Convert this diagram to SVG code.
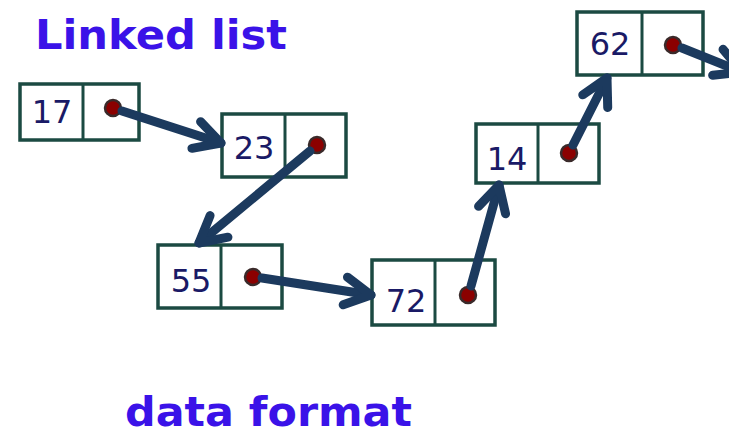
<svg xmlns="http://www.w3.org/2000/svg" width="729" height="435" viewBox="0 0 729 435">
<style>
.box{fill:#ffffff;stroke:#1b4a42;stroke-width:3.5}
.div{stroke:#1b4a42;stroke-width:3}
.num{font-family:"DejaVu Sans",Verdana,sans-serif;font-size:32px;fill:#1a1a66;text-anchor:middle}
.dot{fill:#8b0000;stroke:#3a2a2a;stroke-width:2.5}
.arr{stroke:#1c3a5e;stroke-width:9;stroke-linecap:round;fill:none;marker-end:url(#head)}
.title{font-family:"DejaVu Sans",Verdana,sans-serif;font-weight:bold;font-size:40px;fill:#3a12e8}
</style>
<defs>
<marker id="head" markerUnits="userSpaceOnUse" orient="auto" viewBox="-40 -30 50 60" refX="0" refY="0" markerWidth="50" markerHeight="60" overflow="visible">
<path d="M -26 -14 L 0 0 L -26 14" fill="none" stroke="#1c3a5e" stroke-width="9" stroke-linecap="round" stroke-linejoin="round"/>
</marker>
</defs>
<rect width="729" height="435" fill="#ffffff"/>
<text class="title" x="35" y="49" textLength="252" lengthAdjust="spacingAndGlyphs">Linked list</text>
<text class="title" x="125" y="426" textLength="287" lengthAdjust="spacingAndGlyphs">data format</text>
<g id="n17">
<rect class="box" x="20" y="84" width="119" height="56"/>
<line class="div" x1="83" y1="84" x2="83" y2="140"/>
<text class="num" x="52" y="123">17</text>
<circle class="dot" cx="113" cy="108" r="8"/>
</g>
<g id="n23">
<rect class="box" x="222" y="114" width="124" height="63"/>
<line class="div" x1="285" y1="114" x2="285" y2="177"/>
<text class="num" x="254" y="159">23</text>
<circle class="dot" cx="317" cy="145" r="8"/>
</g>
<g id="n55">
<rect class="box" x="158" y="245" width="124" height="63"/>
<line class="div" x1="221" y1="245" x2="221" y2="308"/>
<text class="num" x="191" y="292">55</text>
<circle class="dot" cx="253" cy="277" r="8"/>
</g>
<g id="n72">
<rect class="box" x="372" y="260" width="123" height="65"/>
<line class="div" x1="435" y1="260" x2="435" y2="325"/>
<text class="num" x="406" y="312">72</text>
<circle class="dot" cx="468" cy="295" r="8"/>
</g>
<g id="n14">
<rect class="box" x="476" y="124" width="123" height="59"/>
<line class="div" x1="538" y1="124" x2="538" y2="183"/>
<text class="num" x="507" y="170">14</text>
<circle class="dot" cx="569" cy="153" r="8"/>
</g>
<g id="n62">
<rect class="box" x="577" y="12" width="126" height="63"/>
<line class="div" x1="642" y1="12" x2="642" y2="75"/>
<text class="num" x="610" y="55">62</text>
<circle class="dot" cx="673" cy="45" r="8"/>
</g>
<g id="connectors">
<line class="arr" x1="122" y1="111" x2="221" y2="143"/>
<line class="arr" x1="310" y1="151" x2="199" y2="243"/>
<line class="arr" x1="262" y1="278" x2="371" y2="295"/>
<line class="arr" x1="471" y1="286" x2="499" y2="185"/>
<line class="arr" x1="573" y1="145" x2="607" y2="78"/>
<line class="arr" x1="682" y1="48" x2="742" y2="72"/>
</g>
</svg>
